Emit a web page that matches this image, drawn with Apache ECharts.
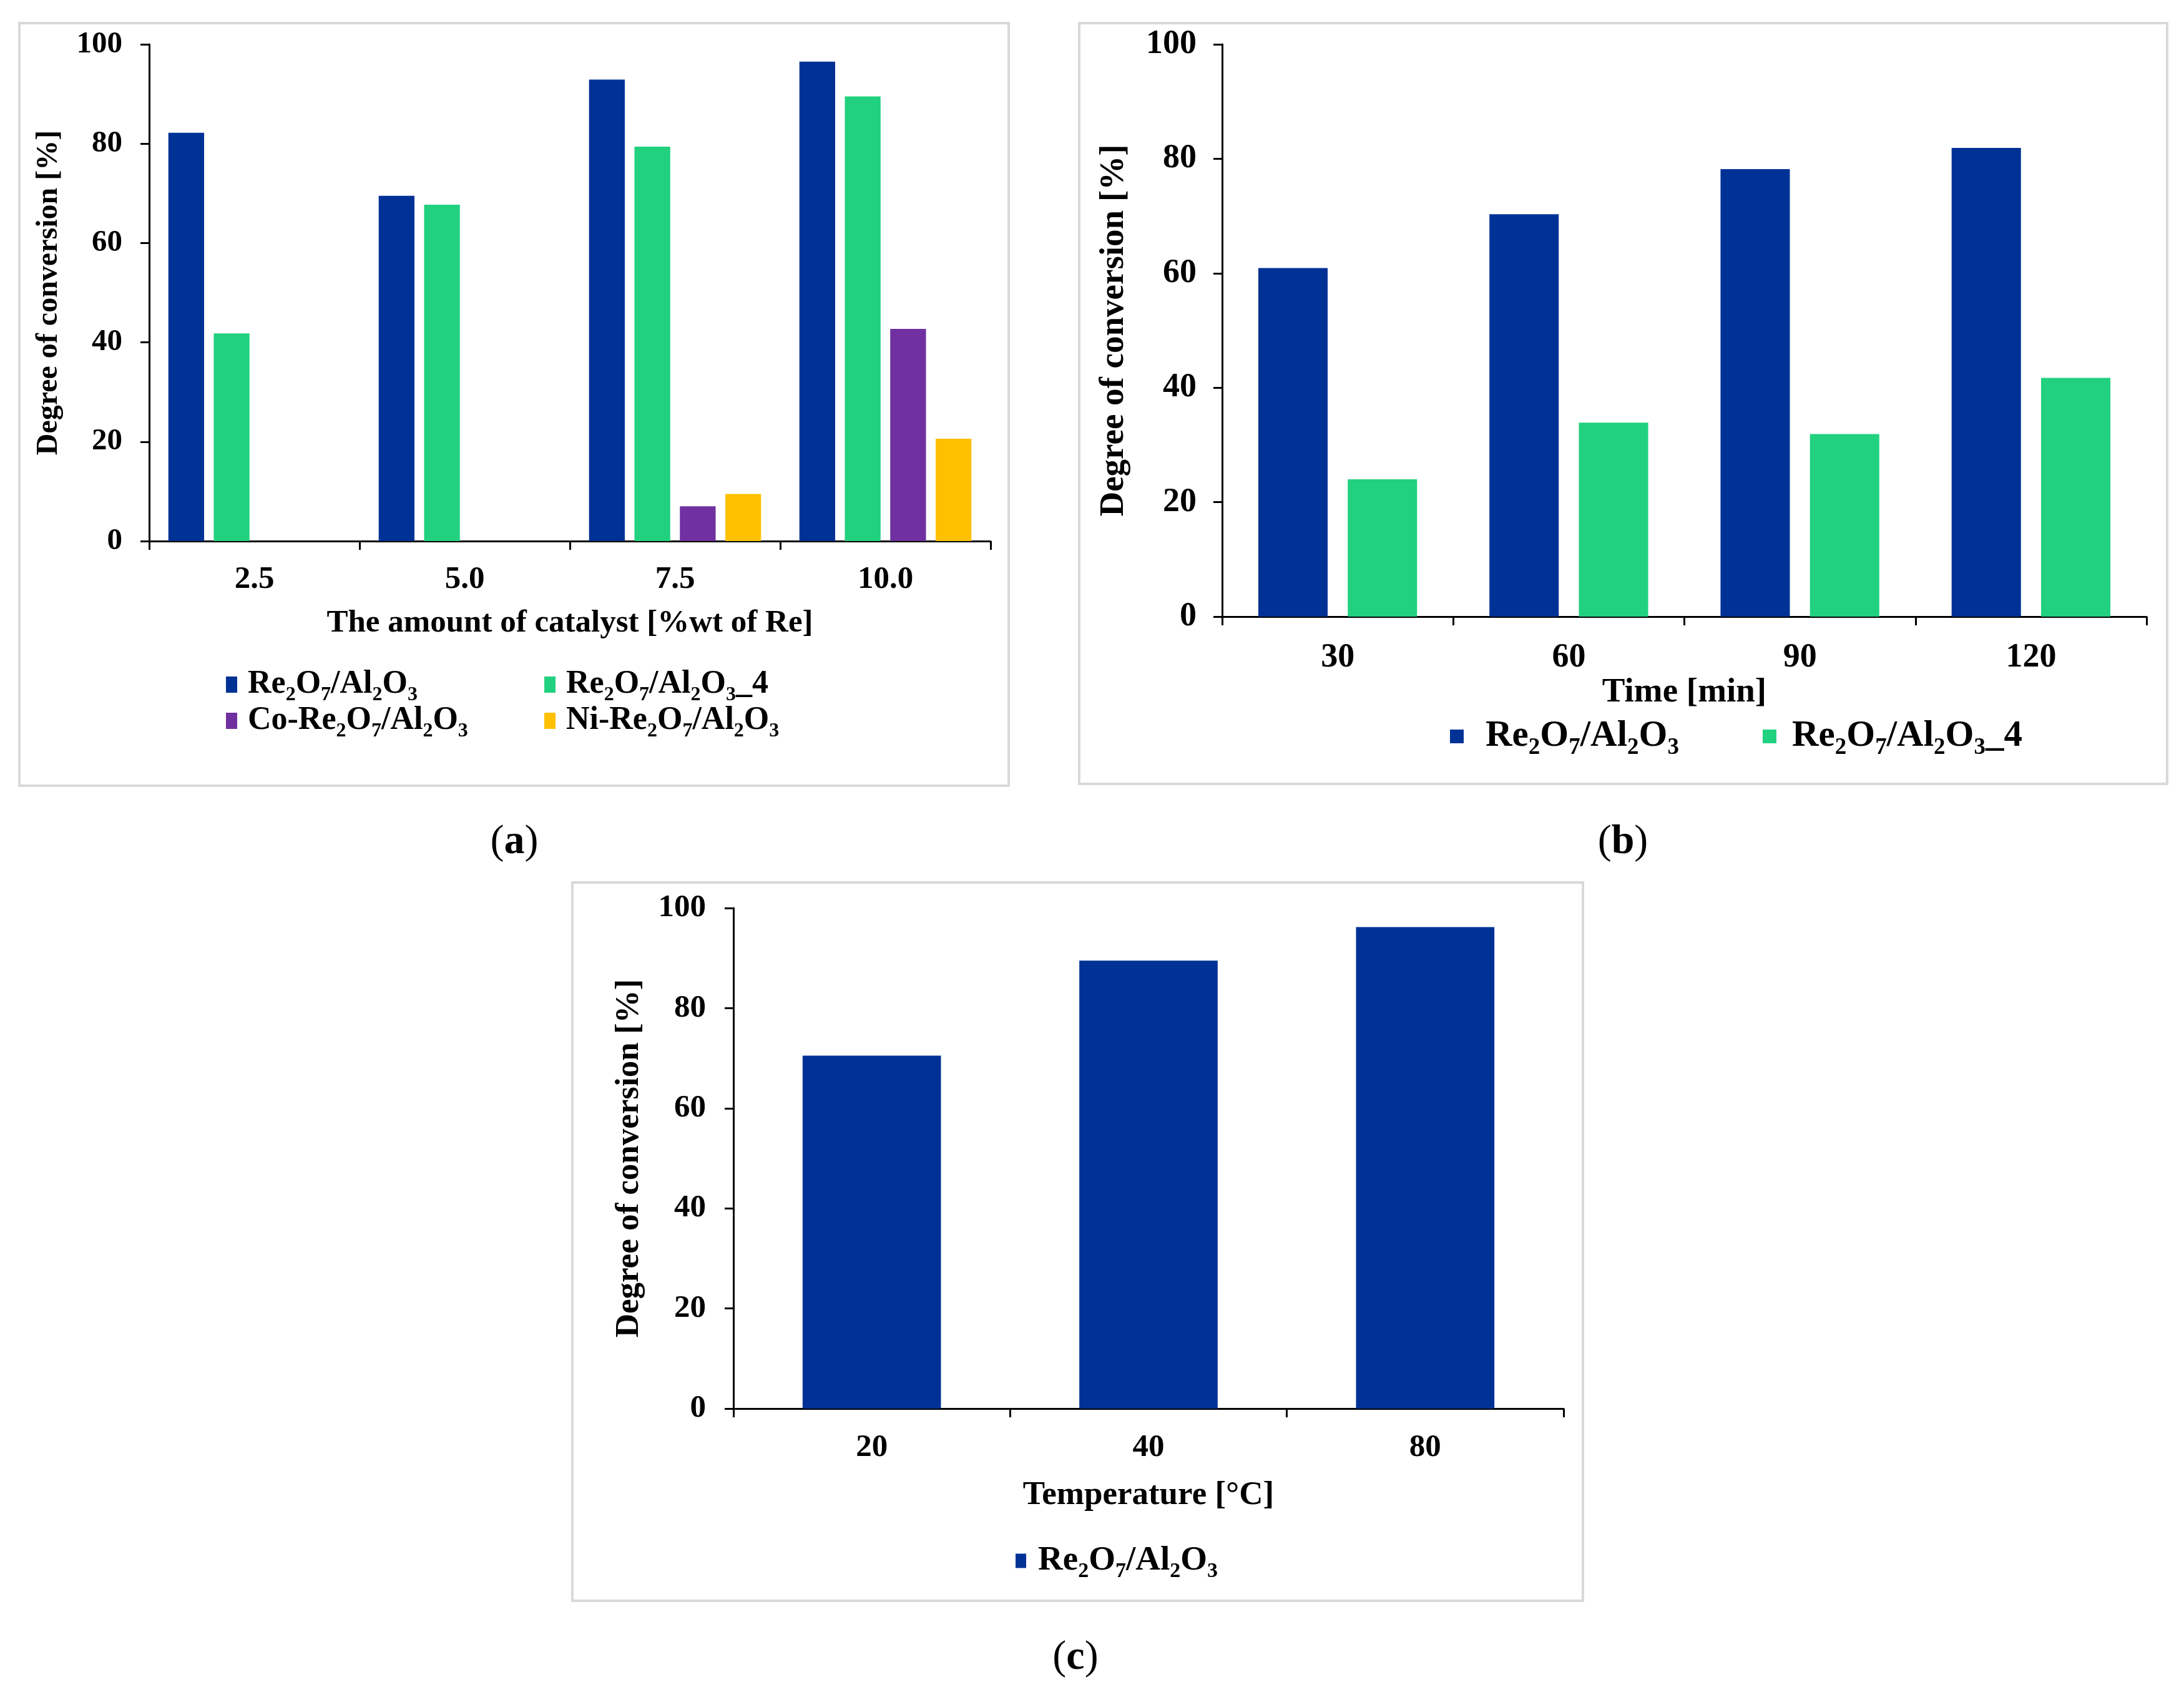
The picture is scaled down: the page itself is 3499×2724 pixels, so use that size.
<!DOCTYPE html>
<html>
<head>
<meta charset="utf-8">
<script src="https://cdn.jsdelivr.net/npm/echarts@6/dist/echarts.min.js"></script>
<style>
html,body{margin:0;padding:0;background:#fff;}
#chart{width:3499px;height:2724px;}
</style>
</head>
<body>
<div id="chart"></div>
<script>
// ---- data ----
const catA = ['2.5', '5.0', '7.5', '10.0'];
const reA = [82.2, 69.5, 92.9, 96.5];
const re4A = [41.8, 67.7, 79.4, 89.5];
const coA = [null, null, 7.0, 42.7];
const niA = [null, null, 9.5, 20.6];

const catB = ['30', '60', '90', '120'];
const reB = [60.9, 70.3, 78.2, 81.9];
const re4B = [24.0, 33.9, 31.9, 41.7];

const catC = ['20', '40', '80'];
const reC = [70.5, 89.5, 96.2];

const yTicks = { min: 0, max: 100, interval: 20 };

const nameRe = 'Re2O7/Al2O3';
const nameRe4 = 'Re2O7/Al2O3_4';
const nameCo = 'Co-Re2O7/Al2O3';
const nameNi = 'Ni-Re2O7/Al2O3';

const titleA_x = 'The amount of catalyst [%wt of Re]';
const titleB_x = 'Time [min]';
const titleC_x = 'Temperature [°C]';
const titleY = 'Degree of conversion [%]';

// ---- styles ----
const FONT = '"Liberation Serif", "Times New Roman", serif';
const C_BLUE = '#003296';
const C_GREEN = '#21D17F';
const C_PURPLE = '#7030A0';
const C_YELLOW = '#FFC000';
const colorOf = {};
colorOf[nameRe] = C_BLUE; colorOf[nameRe4] = C_GREEN; colorOf[nameCo] = C_PURPLE; colorOf[nameNi] = C_YELLOW;

function subFmt(name) {
  return name.replace(/([A-Za-z])(\d)/g, '$1{s|$2}');
}

function makeX(gridIndex, cats, title, labelSize, titleSize, labelMargin, nameGap) {
  return {
    type: 'category', gridIndex: gridIndex, data: cats,
    boundaryGap: true,
    axisLine: { show: true, lineStyle: { color: '#000', width: 3 } },
    axisTick: { show: true, alignWithLabel: false, length: 14, lineStyle: { color: '#000', width: 3 } },
    axisLabel: { fontFamily: FONT, fontWeight: 'bold', fontSize: labelSize, color: '#000', margin: labelMargin },
    name: title, nameLocation: 'middle', nameGap: nameGap,
    nameTextStyle: { fontFamily: FONT, fontWeight: 'bold', fontSize: titleSize, color: '#000' },
    splitLine: { show: false }
  };
}
function makeY(gridIndex, labelSize, titleSize, labelMargin, nameGap) {
  return {
    type: 'value', gridIndex: gridIndex, min: yTicks.min, max: yTicks.max, interval: yTicks.interval,
    axisLine: { show: true, lineStyle: { color: '#000', width: 3 } },
    axisTick: { show: true, length: 14, lineStyle: { color: '#000', width: 3 } },
    axisLabel: { fontFamily: FONT, fontWeight: 'bold', fontSize: labelSize, color: '#000', margin: labelMargin },
    name: titleY, nameLocation: 'middle', nameRotate: 90, nameGap: nameGap,
    nameTextStyle: { fontFamily: FONT, fontWeight: 'bold', fontSize: titleSize, color: '#000' },
    splitLine: { show: false }
  };
}
function makeBar(name, data, axisIdx, barWidth, barGap) {
  return {
    type: 'bar', name: name, data: data, xAxisIndex: axisIdx, yAxisIndex: axisIdx,
    barWidth: barWidth, barGap: barGap,
    itemStyle: { color: colorOf[name] },
    emphasis: { disabled: true },
    animation: false
  };
}
function makeLegend(name, left, centerY, fontSize, iw, ih, textPad) {
  const lh = Math.round(fontSize * 1.15);
  return {
    show: true, orient: 'horizontal',
    left: left, top: centerY - lh / 2,
    data: [{ name: name, icon: 'rect', itemStyle: { color: colorOf[name] } }],
    itemWidth: iw, itemHeight: ih, padding: 0, selectedMode: false,
    formatter: subFmt,
    textStyle: {
      fontFamily: FONT, fontWeight: 'bold', fontSize: fontSize, color: '#000',
      lineHeight: lh, padding: [0, 0, 0, textPad],
      rich: {
        s: { fontFamily: FONT, fontWeight: 'bold', fontSize: Math.round(fontSize * 0.62), color: '#000',
             lineHeight: lh + 6, verticalAlign: 'bottom' }
      }
    }
  };
}
function panelLabel(letter, cx, cy) {
  return {
    type: 'text', x: cx, y: cy, silent: true,
    style: {
      text: '{p|(}{b|' + letter + '}{p|)}',
      align: 'center', verticalAlign: 'middle',
      rich: {
        p: { fontFamily: FONT, fontSize: 66, fontWeight: 'normal', fill: '#000' },
        b: { fontFamily: FONT, fontSize: 66, fontWeight: 'bold', fill: '#000' }
      }
    }
  };
}
function panelBox(x, y, w, h) {
  return { type: 'rect', shape: { x: x, y: y, width: w, height: h }, silent: true, z: -10,
    style: { fill: '#fff', stroke: '#d9d9d9', lineWidth: 4 } };
}

const option = {
  backgroundColor: '#fff',
  animation: false,
  grid: [
    { left: 239, top: 71, width: 1348, height: 796, containLabel: false },
    { left: 1958, top: 71, width: 1481, height: 917, containLabel: false },
    { left: 1175, top: 1455, width: 1330, height: 802, containLabel: false }
  ],
  xAxis: [
    makeX(0, catA, titleA_x, 51, 51, 36, 106),
    makeX(1, catB, titleB_x, 54, 55, 39, 87),
    makeX(2, catC, titleC_x, 51, 53, 37, 113)
  ],
  yAxis: [
    makeY(0, 49, 48, 43, 136),
    makeY(1, 54, 55, 41, 146),
    makeY(2, 51, 53, 44, 140)
  ],
  legend: [
    makeLegend(nameRe, 362, 1094, 52, 18, 26, 12),
    makeLegend(nameRe4, 872, 1094, 52, 18, 26, 12),
    makeLegend(nameCo, 362, 1152, 52, 18, 26, 12),
    makeLegend(nameNi, 872, 1152, 52, 18, 26, 12),
    makeLegend(nameRe, 2323, 1177, 59, 22, 22, 30),
    makeLegend(nameRe4, 2824, 1177, 59, 22, 22, 20),
    makeLegend(nameRe, 1627, 2498, 55, 17, 23, 14)
  ],
  series: [
    makeBar(nameRe, reA, 0, '17%', '27%'),
    makeBar(nameRe4, re4A, 0, '17%', '27%'),
    makeBar(nameCo, coA, 0, '17%', '27%'),
    makeBar(nameNi, niA, 0, '17%', '27%'),
    makeBar(nameRe, reB, 1, '30%', '29%'),
    makeBar(nameRe4, re4B, 1, '30%', '29%'),
    makeBar(nameRe, reC, 2, '50%', '29%')
  ],
  graphic: [
    panelBox(31, 37, 1585, 1222),
    panelBox(1729, 37, 1743, 1219),
    panelBox(917, 1414, 1619, 1151),
    panelLabel('a', 824, 1350),
    panelLabel('b', 2600, 1350),
    panelLabel('c', 1723, 2657)
  ]
};

const chart = echarts.init(document.getElementById('chart'), null, { renderer: 'canvas' });
chart.setOption(option);
</script>
</body>
</html>
